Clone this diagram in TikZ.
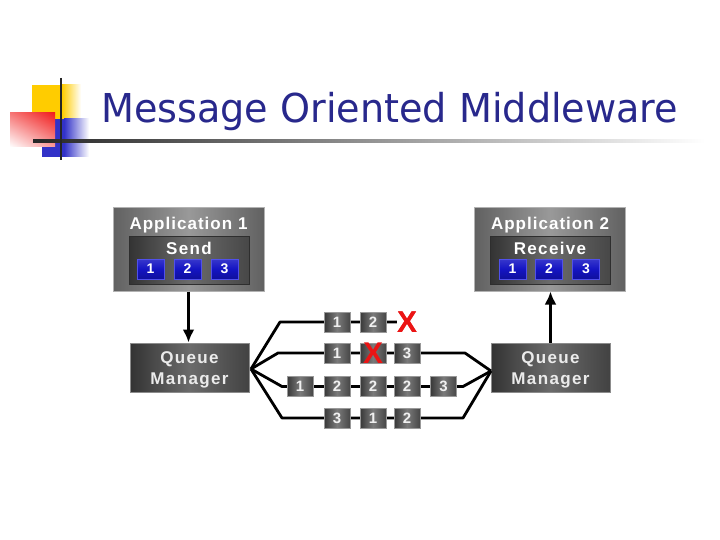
\documentclass[tikz,border=0pt]{standalone}
\usepackage{fontspec}
\setmainfont{Liberation Sans}
\newfontfamily\titlefont{DejaVu Sans}
\newfontfamily\lblfont[LetterSpace=8]{Liberation Sans}
\newfontfamily\appfont[LetterSpace=6]{Liberation Sans}
\usetikzlibrary{arrows.meta,shadings}
\definecolor{titleblue}{RGB}{40,40,140}
\definecolor{ylw}{RGB}{255,204,0}
\definecolor{rd}{RGB}{240,30,30}
\definecolor{bl}{RGB}{50,50,200}
\definecolor{sqblue}{RGB}{20,20,195}
\definecolor{sqedge}{RGB}{80,80,235}
\definecolor{xred}{RGB}{235,20,20}
\tikzset{
  appouter/.style={rectangle, inner sep=0pt, minimum width=151pt, minimum height=83pt,
    left color=black!62, right color=black!62, middle color=black!40, draw=black!30, line width=1pt},
  apppanel/.style={rectangle, inner sep=0pt, minimum width=120pt, minimum height=48pt,
    left color=black!80, right color=black!72, middle color=black!58, draw=black!82, line width=1pt},
  apptitle/.style={inner sep=0pt, text=white, font=\appfont\bfseries\fontsize{17}{17}\selectfont},
  apphead/.style={inner sep=0pt, text=white, font=\lblfont\bfseries\fontsize{17}{17}\selectfont},
  bsq/.style={rectangle, inner sep=0pt, minimum width=27pt, minimum height=20pt,
    top color=sqblue!85!white, bottom color=sqblue!80!black, middle color=sqblue, draw=sqedge, line width=1pt,
    text=white, font=\bfseries\fontsize{14}{14}\selectfont},
  qmgr/.style={rectangle, inner sep=0pt, minimum width=119pt, minimum height=49pt,
    left color=black!80, right color=black!74, middle color=black!58, draw=black!45, line width=1pt},
  qmtext/.style={inner sep=0pt, align=center, text=black!8, font=\lblfont\bfseries\fontsize{17}{21}\selectfont},
  qbox/.style={rectangle, inner sep=0pt, minimum width=26pt, minimum height=20pt,
    left color=black!78, right color=black!72, middle color=black!52, draw=black!40, line width=0.8pt,
    text=black!6, font=\bfseries\fontsize{15}{15}\selectfont},
  redx/.style={inner sep=0pt, text=xred, font=\bfseries\fontsize{30}{30}\selectfont},
  qline/.style={line width=2.8pt, black, line join=round},
  arr/.style={line width=2.6pt, black, -{Latex[length=13pt,width=12pt]}}
}
\begin{document}
\begin{tikzpicture}[x=1pt,y=-1pt]
\fill[white] (0,0) rectangle (720,540);
\useasboundingbox (0,0) rectangle (720,540);
% decoration
\fill[ylw] (32,85) rectangle (62,119);
\shade[left color=ylw, right color=white] (62,85) rectangle (81,119);
\fill[bl] (42,119) rectangle (64,157);
\shade[left color=bl, right color=white] (64,119) rectangle (89,157);
\shade[upper right=rd, upper left=rd!60!white, lower right=rd!45!white, lower left=white] (10,113) rectangle (55,147);
\shade[left color=black!85, right color=white] (33,139.5) rectangle (705,142.5);
\draw[line width=2.5pt, black!85] (61,78) -- (61,160);
\node[anchor=base west, inner sep=0pt, text=titleblue] (title) at (101,123)
  {\resizebox{577pt}{\height}{\titlefont\fontsize{39.8}{40}\selectfont Message Oriented Middleware}};
% application 1
\node[appouter] (a1) at (188.5,249.5) {};
\node[apptitle] (a1t) at (188.5,225) {Application 1};
\node[apppanel] (a1p) at (189,260) {};
\node[apphead] (a1h) at (189,248) {Send};
\node[bsq] (s1) at (150.5,269) {1};
\node[bsq] (s2) at (187.5,269) {2};
\node[bsq] (s3) at (224.5,269) {3};
% application 2
\node[appouter] (a2) at (550,249.5) {};
\node[apptitle] (a2t) at (550,225) {Application 2};
\node[apppanel] (a2p) at (550,260) {};
\node[apphead] (a2h) at (550,248) {Receive};
\node[bsq] (r1) at (512.5,269) {1};
\node[bsq] (r2) at (549,269) {2};
\node[bsq] (r3) at (586,269) {3};
% queue managers
\node[qmgr] (qml) at (189.5,367.5) {};
\node[qmtext] (qmlt) at (189.5,370) {Queue\\Manager};
\node[qmgr] (qmr) at (550.5,367.5) {};
\node[qmtext] (qmrt) at (550.5,370) {Queue\\Manager};
\draw[arr] (a1.south) -- (a1.south |- qml.north);
\draw[arr] (qmr.north) -- (qmr.north |- a2.south);
% fan coordinates
\coordinate (fl) at (251,369);
\coordinate (fr) at (491,371);
\coordinate (k1) at (280,322);
\coordinate (k2) at (278,353);
\coordinate (j2) at (465,353);
\coordinate (k3) at (282,386.5);
\coordinate (j3) at (463,386.5);
\coordinate (k4) at (282,418);
\coordinate (j4) at (463,418);
\node[redx] (x1) at (407,322) {X};
\draw[qline] (fl) -- (k1) -- (x1.west);
\draw[qline] (fl) -- (k2) -- (j2) -- (fr);
\draw[qline] (fl) -- (k3) -- (j3) -- (fr);
\draw[qline] (fl) -- (k4) -- (j4) -- (fr);
\node[redx] (x1b) at (407,322) {X};
% row 1
\node[qbox] (b11) at (337,322) {1};
\node[qbox] (b12) at (373,322) {2};
% row 2
\node[qbox] (b21) at (337,353) {1};
\node[qbox] (b22) at (373,353) {};
\node[redx] (x2) at (373,353) {X};
\node[qbox] (b23) at (407,353) {3};
% row 3
\node[qbox] (b31) at (300,386.5) {1};
\node[qbox] (b32) at (337,386.5) {2};
\node[qbox] (b33) at (373,386.5) {2};
\node[qbox] (b34) at (407,386.5) {2};
\node[qbox] (b35) at (443.5,386.5) {3};
% row 4
\node[qbox] (b41) at (337,418) {3};
\node[qbox] (b42) at (373,418) {1};
\node[qbox] (b43) at (407,418) {2};
\end{tikzpicture}
\end{document}
